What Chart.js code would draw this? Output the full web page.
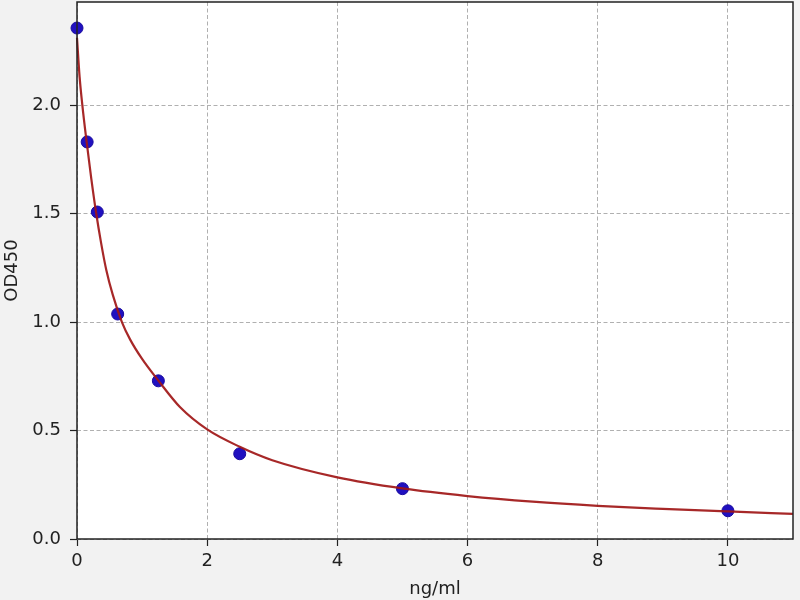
<!DOCTYPE html>
<html>
<head>
<meta charset="utf-8">
<script src="https://cdn.jsdelivr.net/npm/chart.js@4/dist/chart.umd.min.js"></script>
<style>
html,body{margin:0;padding:0;background:#f2f2f2;}
#c{display:block;}
</style>
</head>
<body>
<canvas id="c" width="800" height="600"></canvas>
<script>
// Standard points (concentration ng/ml, OD450)
const concentrations = [0, 0.156, 0.312, 0.625, 1.25, 2.5, 5, 10];
const odValues = [2.355, 1.830, 1.507, 1.037, 0.729, 0.393, 0.232, 0.130];

// Fitted curve
const curveX = [0, 0.04, 0.082, 0.149, 0.22, 0.292, 0.37, 0.45, 0.55, 0.69, 0.815, 1.0, 1.25, 1.585, 2.0, 2.5, 3, 4, 5, 6, 7, 8, 9, 10, 11];
const curveY = [2.31, 2.13, 2.0, 1.828, 1.66, 1.507, 1.365, 1.24, 1.125, 1.0, 0.92, 0.83, 0.73, 0.607, 0.505, 0.425, 0.363, 0.284, 0.233, 0.198, 0.172, 0.153, 0.139, 0.127, 0.116];

const xTicks = [0, 2, 4, 6, 8, 10];
const yTicks = [0, 0.5, 1.0, 1.5, 2.0];
const xTitle = 'ng/ml';
const yTitle = 'OD450';

const FONT = 'DejaVu Sans';

const bgPlugin = {
  id: 'bg',
  beforeDraw(chart) {
    const {ctx, chartArea: a} = chart;
    ctx.save();
    ctx.fillStyle = '#f2f2f2';
    ctx.fillRect(0, 0, chart.width, chart.height);
    ctx.fillStyle = '#ffffff';
    ctx.fillRect(a.left, a.top, a.right - a.left, a.bottom - a.top);
    ctx.restore();
  },
  afterDraw(chart) {
    const {ctx, chartArea: a} = chart;
    ctx.save();
    ctx.strokeStyle = '#222';
    ctx.lineWidth = 1.5;
    ctx.strokeRect(a.left, a.top, a.right - a.left, a.bottom - a.top);
    ctx.restore();
  }
};

function zeroPad(s) { s.paddingTop = 0; s.paddingBottom = 0; s.paddingLeft = 0; s.paddingRight = 0; }

new Chart(document.getElementById('c'), {
  type: 'scatter',
  data: {
    datasets: [
      {
        label: 'fit',
        data: curveX.map((x, i) => ({x: x, y: curveY[i]})),
        showLine: true,
        borderColor: 'rgba(160,22,22,0.92)',
        borderWidth: 2.2,
        pointRadius: 0,
        cubicInterpolationMode: 'monotone',
        fill: false
      },
      {
        label: 'std',
        data: concentrations.map((x, i) => ({x: x, y: odValues[i]})),
        backgroundColor: '#2010c0',
        borderColor: '#1a0ca0',
        borderWidth: 1,
        pointRadius: 6
      }
    ]
  },
  options: {
    responsive: false,
    animation: false,
    devicePixelRatio: 1,
    clip: false,
    layout: {autoPadding: false, padding: {left: 0, right: 7, top: 2, bottom: 0}},
    plugins: {legend: {display: false}, tooltip: {enabled: false}},
    scales: {
      x: {
        type: 'linear',
        min: 0,
        max: 11,
        afterFit(s) { s.height = 61; zeroPad(s); },
        afterBuildTicks(s) { s.ticks = xTicks.map(v => ({value: v})); },
        ticks: {
          includeBounds: false,
          color: '#222',
          font: {family: FONT, size: 18},
          padding: 5,
          maxRotation: 0,
          callback: v => String(v)
        },
        grid: {
          color: '#b0b0b0',
          lineWidth: 1,
          drawTicks: true,
          tickLength: 7,
          tickColor: '#222',
          tickWidth: 1.2,
          tickBorderDash: []
        },
        border: {display: false, dash: [4, 2.5]},
        title: {
          display: true,
          text: xTitle,
          color: '#222',
          font: {family: FONT, size: 18},
          padding: {top: 0, bottom: 0}
        }
      },
      y: {
        type: 'linear',
        min: 0,
        max: 2.475,
        afterFit(s) { s.width = 77; zeroPad(s); },
        afterBuildTicks(s) { s.ticks = yTicks.map(v => ({value: v})); },
        ticks: {
          includeBounds: false,
          color: '#222',
          font: {family: FONT, size: 18},
          padding: 9,
          callback: v => Number(v).toFixed(1)
        },
        grid: {
          color: '#b0b0b0',
          lineWidth: 1,
          drawTicks: true,
          tickLength: 7,
          tickColor: '#222',
          tickWidth: 1.2,
          tickBorderDash: []
        },
        border: {display: false, dash: [4, 2.5]},
        title: {
          display: true,
          text: yTitle,
          color: '#222',
          font: {family: FONT, size: 18},
          padding: {top: 2, bottom: 2}
        }
      }
    }
  },
  plugins: [bgPlugin]
});
</script>
</body>
</html>
